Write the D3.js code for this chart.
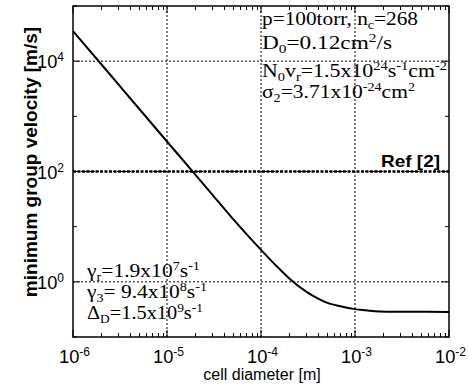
<!DOCTYPE html>
<html>
<head>
<meta charset="utf-8">
<script src="https://cdn.jsdelivr.net/npm/d3@7"></script>
<style>
  body { margin: 0; background: #fff; }
  svg { display: block; }
</style>
</head>
<body>
<svg width="468" height="387"></svg>
<script>
// values
var diameters  = [1e-6, 2e-6, 3e-6, 5e-6, 1e-5, 2e-5, 3e-5, 5e-5, 1e-4, 1.5e-4, 2e-4, 3e-4, 4e-4, 5e-4, 7e-4, 1e-3, 1.3e-3, 1.8e-3, 3e-3, 1e-2];
var velocities = [35000, 8800, 3900, 1400, 350, 88, 39, 14, 3.8, 1.85, 1.15, 0.67, 0.50, 0.42, 0.36, 0.32, 0.305, 0.29, 0.287, 0.285];
var refValue = 100;
var xTickExps = [-6, -5, -4, -3, -2];
var yTickExps = [0, 2, 4];
var yMinorExps = [-1, 1, 3, 5];

var svg = d3.select("svg"),
    margin = {left: 73, right: 19, top: 6, bottom: 50},
    width = 468 - margin.left - margin.right,
    height = 387 - margin.top - margin.bottom;

var sans = "'Liberation Sans', Arial, sans-serif",
    serif = "'Liberation Serif', 'Times New Roman', serif";

var x = d3.scaleLog().domain([1e-6, 1e-2]).range([margin.left, margin.left + width]);
var y = d3.scaleLog().domain([1e-1, 1e5]).range([margin.top + height, margin.top]);

var x0 = margin.left, x1 = margin.left + width,
    y0 = margin.top + height, y1 = margin.top;

// grid lines (dotted)
var grid = svg.append("g");
grid.selectAll("line.gx")
    .data(xTickExps.slice(1, -1))
    .enter().append("line")
    .attr("x1", function(d) { return x(Math.pow(10, d)); })
    .attr("x2", function(d) { return x(Math.pow(10, d)); })
    .attr("y1", y0).attr("y2", y1)
    .style("stroke", "#000").style("stroke-width", 1).style("stroke-dasharray", "2,2");
grid.selectAll("line.gy")
    .data(yTickExps)
    .enter().append("line")
    .attr("y1", function(d) { return y(Math.pow(10, d)); })
    .attr("y2", function(d) { return y(Math.pow(10, d)); })
    .attr("x1", x0).attr("x2", x1)
    .style("stroke", "#000").style("stroke-width", 1).style("stroke-dasharray", "2,2");

// minor ticks on x (bottom and top)
var xMinor = [];
for (var e = -6; e < -2; e++) {
  for (var k = 2; k <= 9; k++) xMinor.push(k * Math.pow(10, e));
}
var ticks = svg.append("g").style("stroke", "#000").style("stroke-width", 1);
ticks.selectAll("line.mb").data(xMinor).enter().append("line")
    .attr("x1", function(d) { return Math.round(x(d)) + 0.5; })
    .attr("x2", function(d) { return Math.round(x(d)) + 0.5; })
    .attr("y1", y0).attr("y2", y0 - 4);
ticks.selectAll("line.mt").data(xMinor).enter().append("line")
    .attr("x1", function(d) { return Math.round(x(d)) + 0.5; })
    .attr("x2", function(d) { return Math.round(x(d)) + 0.5; })
    .attr("y1", y1).attr("y2", y1 + 4);
ticks.selectAll("line.jb").data(xTickExps).enter().append("line")
    .attr("x1", function(d) { return x(Math.pow(10, d)); })
    .attr("x2", function(d) { return x(Math.pow(10, d)); })
    .attr("y1", y0).attr("y2", y0 - 7);
ticks.selectAll("line.jt").data(xTickExps).enter().append("line")
    .attr("x1", function(d) { return x(Math.pow(10, d)); })
    .attr("x2", function(d) { return x(Math.pow(10, d)); })
    .attr("y1", y1).attr("y2", y1 + 7);
// y ticks left and right
var yAll = yTickExps.concat(yMinorExps);
ticks.selectAll("line.yl").data(yAll).enter().append("line")
    .attr("y1", function(d) { return y(Math.pow(10, d)); })
    .attr("y2", function(d) { return y(Math.pow(10, d)); })
    .attr("x1", x0).attr("x2", function(d) { return yTickExps.indexOf(d) >= 0 ? x0 + 7 : x0 + 4; });
ticks.selectAll("line.yr").data(yAll).enter().append("line")
    .attr("y1", function(d) { return y(Math.pow(10, d)); })
    .attr("y2", function(d) { return y(Math.pow(10, d)); })
    .attr("x1", x1).attr("x2", function(d) { return yTickExps.indexOf(d) >= 0 ? x1 - 7 : x1 - 4; });

// frame
svg.append("rect")
    .attr("x", x0).attr("y", y1)
    .attr("width", width).attr("height", height)
    .style("fill", "none").style("stroke", "#000").style("stroke-width", 1.5);

// reference line
svg.append("line")
    .attr("x1", x0).attr("x2", x1)
    .attr("y1", y(refValue)).attr("y2", y(refValue))
    .style("stroke", "#000").style("stroke-width", 2.5).style("stroke-dasharray", "3,1.5");

// curve
var line = d3.line()
    .x(function(d) { return x(d[0]); })
    .y(function(d) { return y(d[1]); })
    .curve(d3.curveMonotoneX);
svg.append("path")
    .datum(diameters.map(function(d, i) { return [d, velocities[i]]; }))
    .attr("d", line)
    .style("fill", "none").style("stroke", "#000").style("stroke-width", 2);

// text helper: parts = [[string, "sup"|"sub"|""], ...]
function richText(g, px, py, parts, size, family, len) {
  var t = g.append("text")
      .attr("x", px).attr("y", py)
      .style("font-family", family).style("font-size", size + "px").style("fill", "#000");
  var shift = 0;
  parts.forEach(function(p) {
    var s = p[1] || "";
    var target = s == "sup" ? -0.38 * size : s == "sub" ? 0.22 * size : 0;
    var ts = t.append("tspan").text(p[0]).attr("dy", target - shift);
    if (s) ts.style("font-size", (size * 0.66) + "px");
    shift = target;
  });
  if (len) t.attr("textLength", len).attr("lengthAdjust", "spacingAndGlyphs");
  return t;
}

// tick labels
yTickExps.forEach(function(d) {
  richText(svg, 37, y(Math.pow(10, d)) + 7, [["10"], [String(d), "sup"]], 18, sans, 27);
});
xTickExps.forEach(function(d) {
  richText(svg, x(Math.pow(10, d)) - 14, 363, [["10"], [String(d), "sup"]], 18, sans, 31);
});

// axis labels
svg.append("text")
    .attr("x", 262).attr("y", 380)
    .attr("text-anchor", "middle")
    .style("font-family", sans).style("font-size", "16px")
    .text("cell diameter [m]");
svg.append("text")
    .attr("transform", "translate(37,162) rotate(-90)")
    .attr("text-anchor", "middle")
    .style("font-family", sans).style("font-size", "19px").style("font-weight", "bold")
    .text("minimum group velocity [m/s]");

// Ref label
svg.append("text")
    .attr("x", 381).attr("y", 167)
    .style("font-family", sans).style("font-size", "17px").style("font-weight", "bold")
    .attr("textLength", 59).attr("lengthAdjust", "spacingAndGlyphs")
    .text("Ref [2]");

// parameter annotations
var tr = svg.append("g");
richText(tr, 262, 25, [["p=100torr, n"], ["c", "sub"], ["=268"]], 18, serif, 156);
richText(tr, 262, 49, [["D"], ["0", "sub"], ["=0.12cm"], ["2", "sup"], ["/s"]], 18, serif, 130);
richText(tr, 262, 77, [["N"], ["0", "sub"], ["v"], ["r", "sub"], ["=1.5x10"], ["24", "sup"], ["s"], ["-1", "sup"], ["cm"], ["-2", "sup"]], 18, serif, 185);
richText(tr, 262, 98, [["σ"], ["2", "sub"], ["=3.71x10"], ["-24", "sup"], ["cm"], ["2", "sup"]], 18, serif, 153);

var bl = svg.append("g");
richText(bl, 87, 277, [["γ"], ["r", "sub"], ["=1.9x10"], ["7", "sup"], ["s"], ["-1", "sup"]], 18, serif, 113);
richText(bl, 87, 298, [["γ"], ["3", "sub"], ["= 9.4x10"], ["8", "sup"], ["s"], ["-1", "sup"]], 18, serif, 120);
richText(bl, 87, 319, [["Δ"], ["D", "sub"], ["=1.5x10"], ["9", "sup"], ["s"], ["-1", "sup"]], 18, serif, 116);
</script>
</body>
</html>
